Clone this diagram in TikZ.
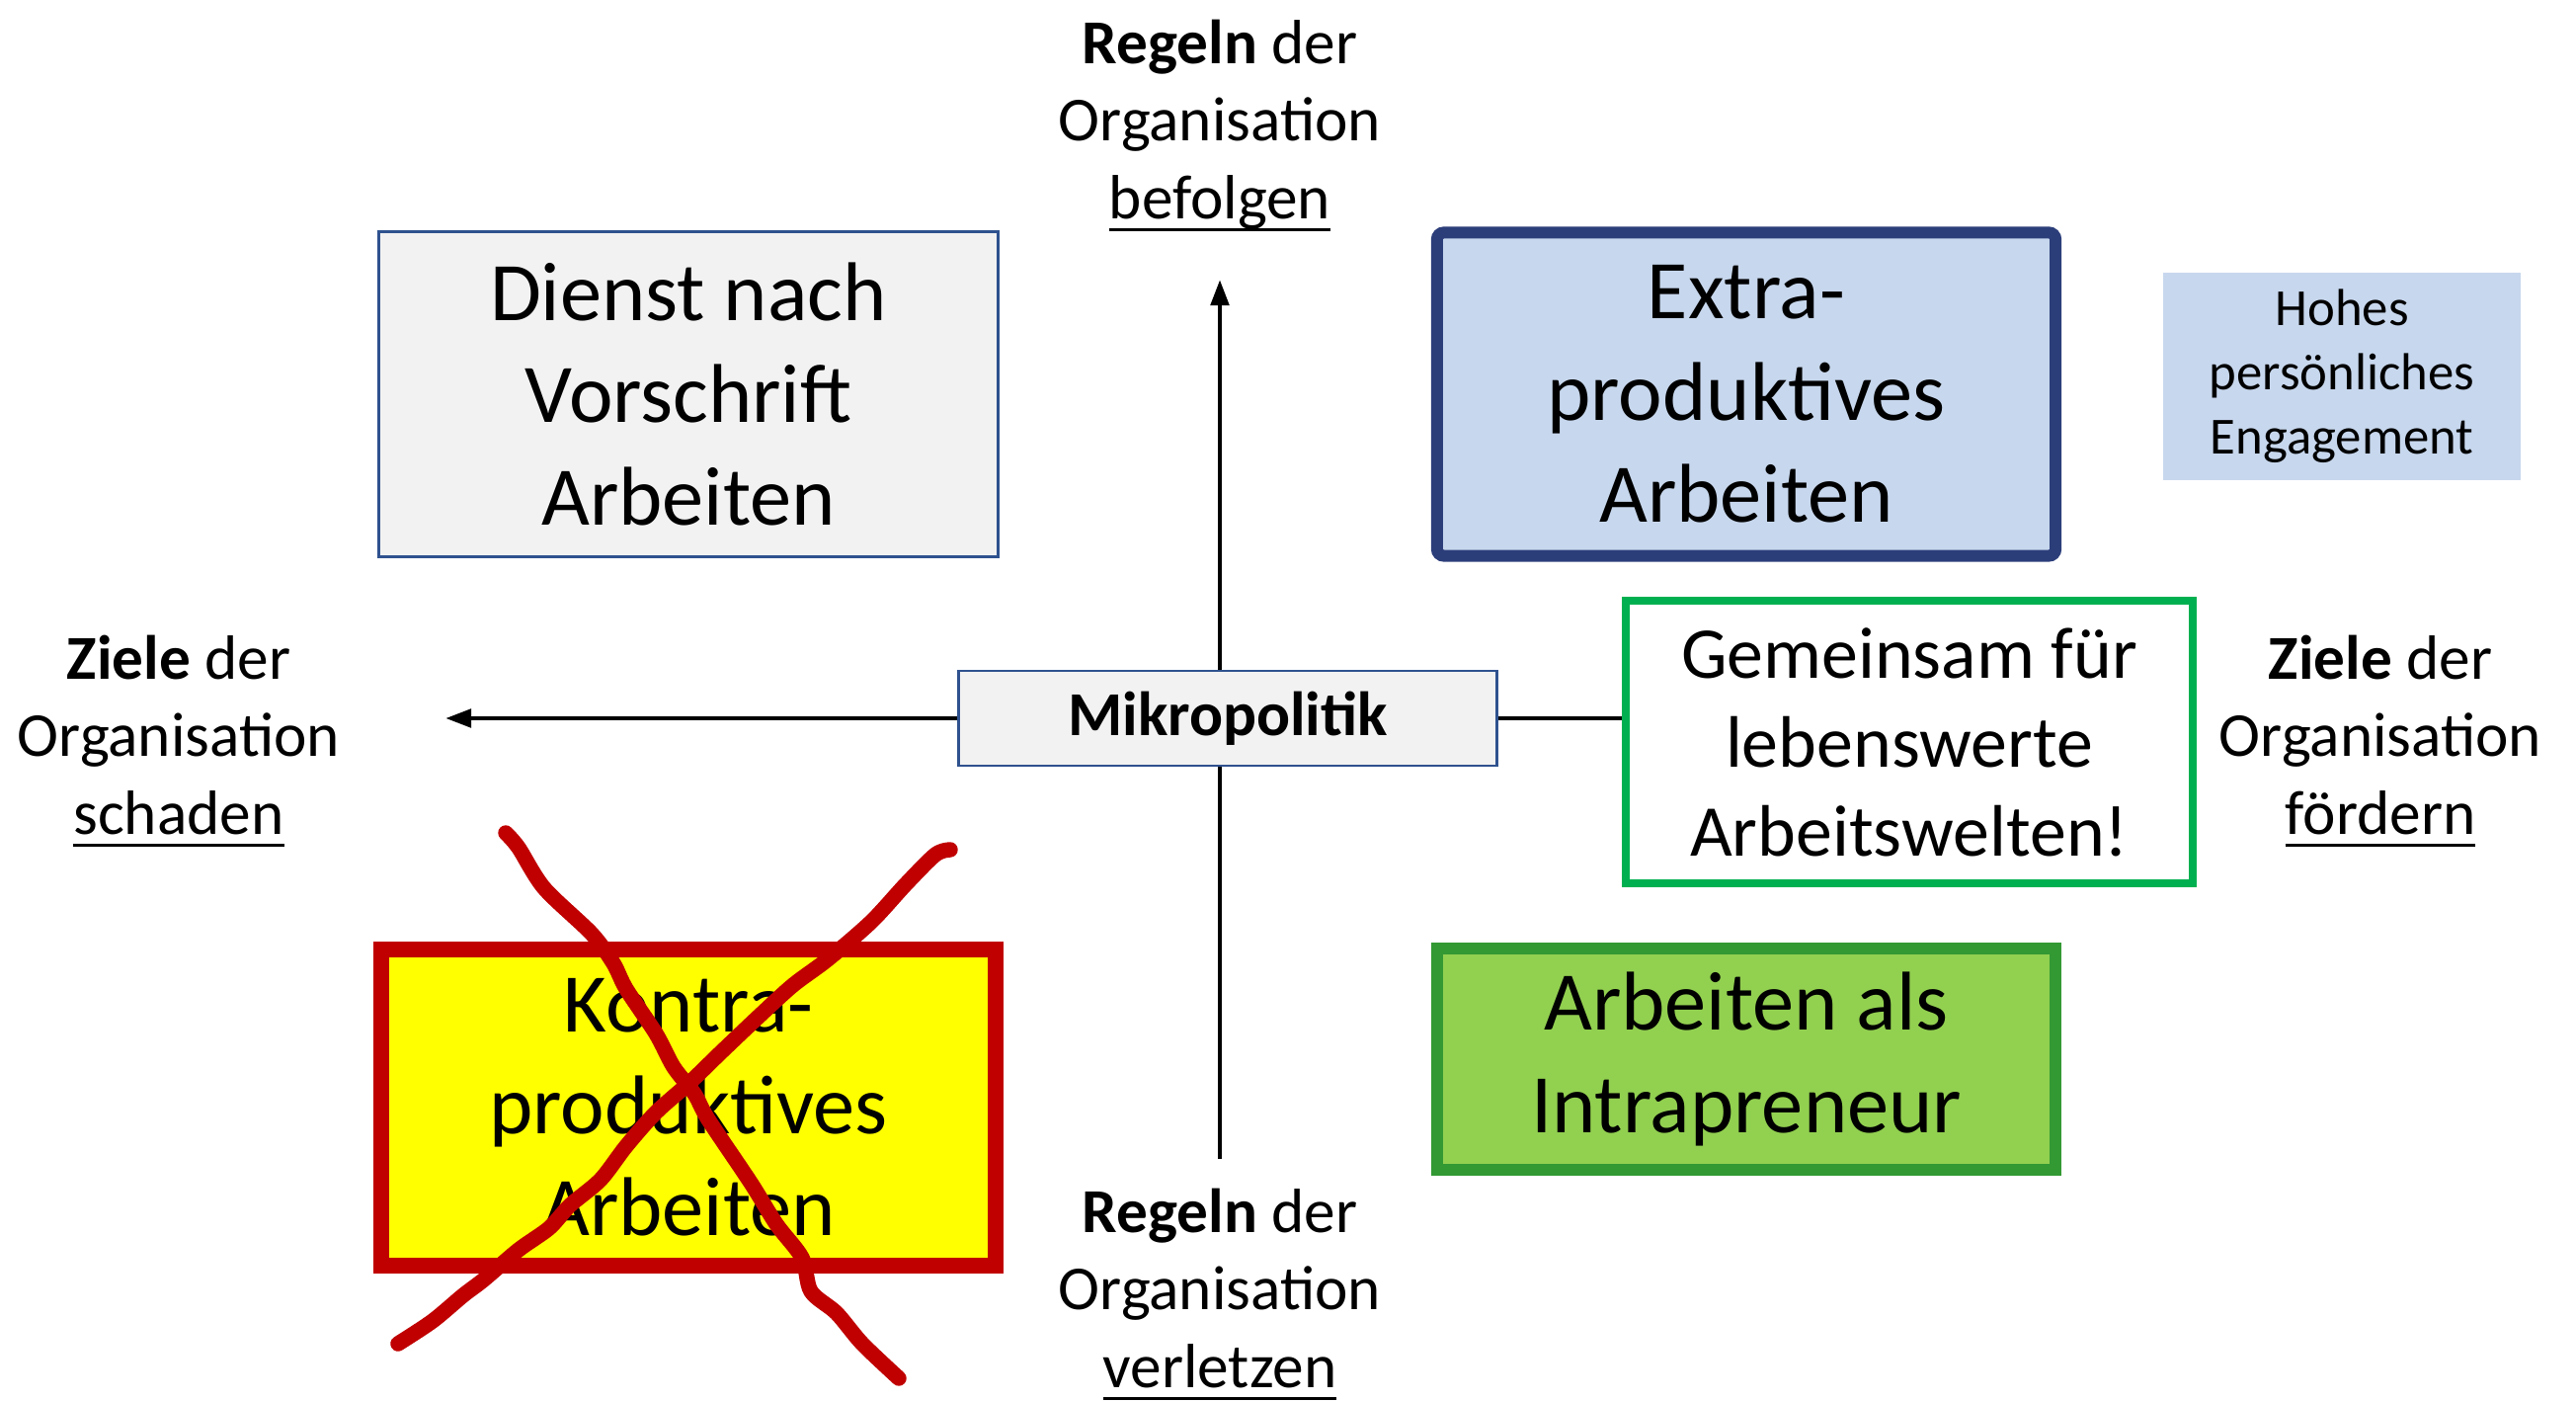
\documentclass[tikz,border=0pt]{standalone}
\usepackage{fontspec}
\setmainfont{Carlito}
\usetikzlibrary{arrows.meta,positioning,backgrounds}
\definecolor{boxgray}{HTML}{F2F2F2}
\definecolor{edgeblue}{HTML}{2F528F}
\definecolor{navy}{RGB}{44,62,122}
\definecolor{paleblue}{RGB}{199,215,237}
\definecolor{brightgreen}{HTML}{00B050}
\definecolor{leafgreen}{HTML}{92D050}
\definecolor{darkgreen}{RGB}{51,153,51}
\definecolor{darkred}{HTML}{C00000}
\definecolor{pureyellow}{RGB}{255,255,0}
\newcommand{\undl}[1]{\setbox0\hbox{#1}\rlap{\rule[-3.6pt]{\wd0}{0.9pt}}\box0}

\begin{document}
\begin{tikzpicture}[
    x=0.01cm, y=-0.01cm,
    big/.style={rectangle, align=center, inner sep=0pt, font=\fontsize{24}{29.3}\selectfont},
    axislabel/.style={align=center, font=\fontsize{18}{22.3}\selectfont},
    arrow/.style={-{Triangle[length=2.6mm,width=1.8mm]}, line width=1.4pt},
    cross/.style={darkred, line width=4.4pt, line cap=round, line join=round}
]
    \useasboundingbox (0,0) rectangle (2608,1419);

    % quadrant boxes
    \node[big, draw=edgeblue, line width=0.8pt, fill=boxgray, minimum width=6.26cm, minimum height=3.29cm] (dienst) at (697,399) {Dienst nach\\Vorschrift\\Arbeiten};
    \node[big, draw=navy, line width=0.12cm, rounded corners=2pt, fill=paleblue, minimum width=6.26cm, minimum height=3.27cm] (extra) at (1768,399) {Extra-\\produktives\\Arbeiten};
    \node[rectangle, align=center, fill=paleblue, minimum width=3.61cm, minimum height=2.10cm, font=\fontsize{15}{18.5}\selectfont] (hohes) at (2371,381) {Hohes\\persönliches\\Engagement};
    \node[big, draw=darkred, line width=0.16cm, fill=pureyellow, minimum width=6.21cm, minimum height=3.20cm] (kontra) at (697,1121) {Kontra-\\produktives\\Arbeiten};
    \node[big, draw=darkgreen, line width=0.12cm, fill=leafgreen, minimum width=6.26cm, minimum height=2.23cm] (intra) at (1768,1072) {Arbeiten als\\Intrapreneur};
    \node[big, draw=brightgreen, line width=0.08cm, fill=white, minimum width=5.73cm, minimum height=2.86cm, font=\fontsize{21}{25.6}\selectfont] (gemein) at (1933,751) {Gemeinsam für\\lebenswerte\\Arbeitswelten!};
    \node[rectangle, draw=edgeblue, line width=0.8pt, fill=boxgray, minimum width=5.45cm, minimum height=0.96cm, font=\fontsize{18}{22}\selectfont\bfseries] (mikro) at (1243,727) {Mikropolitik};

    % axis ends and labels
    \coordinate (top) at (1235,283);
    \coordinate (bot) at (1235,1173);
    \coordinate (left) at (451,727);
    \node[axislabel] (befolgen) at (1235,127) {\textbf{Regeln} der\\Organisation\\\undl{befolgen}};
    \node[axislabel] (verletzen) at (1235,1310) {\textbf{Regeln} der\\Organisation\\\undl{verletzen}};
    \node[axislabel] (schaden) at (181,750) {\textbf{Ziele} der\\Organisation\\\undl{schaden}};
    \node[axislabel] (foerdern) at (2410,750) {\textbf{Ziele} der\\Organisation\\\undl{fördern}};

    \begin{scope}[on background layer]
        \draw[arrow, {Triangle[length=2.6mm,width=1.8mm]}-] (top) -- (bot);
        \draw[arrow] (left -| gemein.west) -- (left);
    \end{scope}

    % crossed out by hand
    \draw[cross] plot[smooth] coordinates {(512,843) (525,858) (551,899) (599,945) (621,975) (634,1001) (664,1046) (682,1080) (703,1107) (717,1133) (760,1197) (786,1239) (812,1273) (821,1307) (847,1329) (873,1360) (910,1395)};
    \draw[cross] plot[smooth] coordinates {(962,860) (947,865) (917,895) (882,933) (838,971) (803,997) (769,1028) (730,1065) (699,1095) (664,1126) (634,1160) (608,1194) (577,1220) (556,1243) (525,1265) (490,1295) (469,1311) (438,1337) (403,1360)};
\end{tikzpicture}
\end{document}
